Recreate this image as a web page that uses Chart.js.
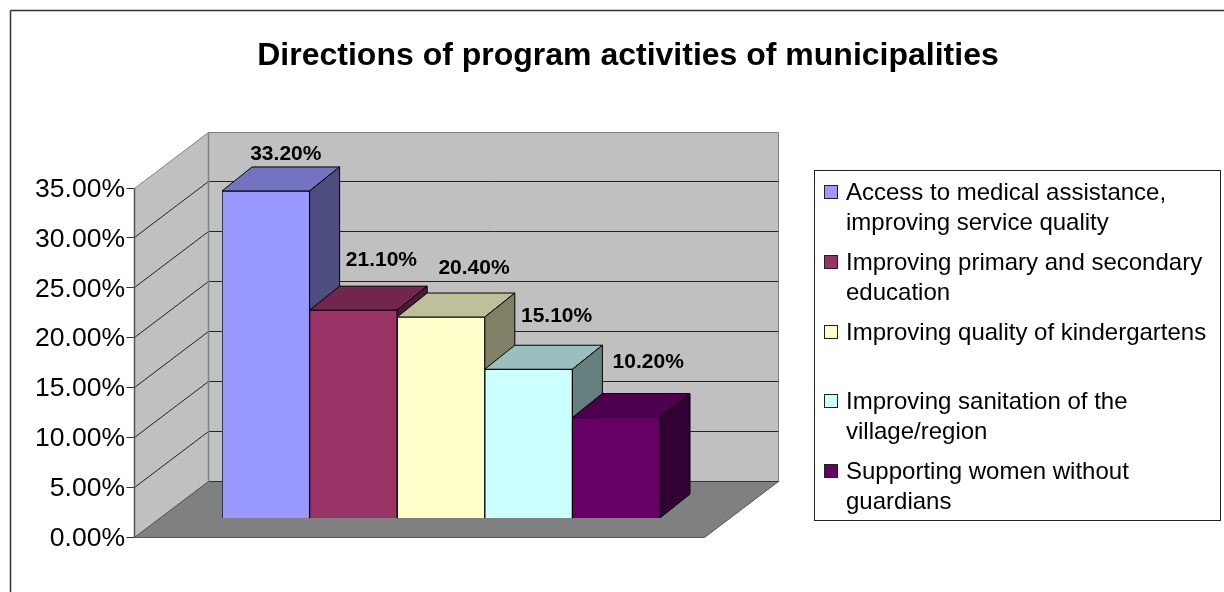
<!DOCTYPE html>
<html>
<head>
<meta charset="utf-8">
<style>
  html, body { margin: 0; padding: 0; background: #fff; }
  #wrap { width: 1224px; height: 592px; }
</style>
<script src="https://cdn.jsdelivr.net/npm/chart.js@4/dist/chart.umd.min.js"></script>
</head>
<body>
<div id="wrap"><canvas id="chart" width="1224" height="592"></canvas></div>
<script>
const chartTitle = 'Directions of program activities of municipalities';
const categories = [''];
const seriesLabels = [
  ['Access to medical assistance,', 'improving service quality'],
  ['Improving primary and secondary', 'education'],
  ['Improving quality of kindergartens'],
  ['Improving sanitation of the', 'village/region'],
  ['Supporting women without', 'guardians'],
];
const seriesValues = [33.2, 21.1, 20.4, 15.1, 10.2];
const seriesColors = ['#9999FF', '#993366', '#FFFFCC', '#CCFFFF', '#660066'];
const axisMax = 35;
const axisStep = 5;

// oblique projection of the 3D box, in pixels
const wallDx = 74, wallDy = -56;
const barDx = 30, barDy = -24;
const wallLeft = 134;
const floorRight = 704;
// nudge of each value label from the top of its bar
const labelNudge = [[20, -37], [28, -50], [33, -49], [28, -53], [32, -55]];
// legend rows
const legendBox = { left: 814.5, top: 170.5, right: 1220.5, bottom: 520.5 };
const legendRowY = [193, 263, 333, 402, 472];

const pct = v => v.toFixed(2) + '%';
const crisp = v => Math.round(v - 0.5) + 0.5;

function shade(hex, k) {
  const n = parseInt(hex.slice(1), 16);
  const c = [n >> 16, (n >> 8) & 255, n & 255].map(x => Math.round(x * k));
  return `rgb(${c[0]},${c[1]},${c[2]})`;
}

function poly(ctx, pts, fill, stroke) {
  ctx.beginPath();
  pts.forEach((p, i) => (i ? ctx.lineTo(p[0], p[1]) : ctx.moveTo(p[0], p[1])));
  ctx.closePath();
  if (fill) { ctx.fillStyle = fill; ctx.fill(); }
  if (stroke) { ctx.strokeStyle = stroke; ctx.lineWidth = 1; ctx.stroke(); }
}

function line(ctx, x1, y1, x2, y2, color, width) {
  ctx.beginPath();
  ctx.moveTo(x1, y1);
  ctx.lineTo(x2, y2);
  ctx.strokeStyle = color;
  ctx.lineWidth = width || 1;
  ctx.stroke();
}

const box3d = {
  id: 'box3d',
  beforeDraw(chart) {
    const ctx = chart.ctx;
    ctx.save();
    // outer frame
    line(ctx, 10.5, 592, 10.5, 10.5, '#333', 1.5);
    line(ctx, 10.5, 10.5, 1224, 10.5, '#333', 1.5);
    ctx.restore();
  },
  beforeDatasetsDraw(chart) {
    const ctx = chart.ctx;
    const y = chart.scales.y;
    const y0 = crisp(y.getPixelForValue(0));
    const yTop = crisp(y.getPixelForValue(axisMax));
    const x0 = wallLeft + 0.5;
    const x1 = x0 + wallDx;
    const x2 = floorRight + 0.5;
    const x3 = x2 + wallDx;

    ctx.save();
    // walls and floor
    poly(ctx, [[x0, y0], [x1, y0 + wallDy], [x1, yTop + wallDy], [x0, yTop]], '#C0C0C0', '#808080');
    poly(ctx, [[x1, y0 + wallDy], [x3, y0 + wallDy], [x3, yTop + wallDy], [x1, yTop + wallDy]], '#C0C0C0', '#808080');
    poly(ctx, [[x0, y0], [x1, y0 + wallDy], [x3, y0 + wallDy], [x2, y0]], '#808080', '#555');

    // grid lines follow the value axis round the walls
    y.ticks.forEach(t => {
      const py = crisp(y.getPixelForValue(t.value));
      line(ctx, x0 - 8, py, x0, py, '#333');
      if (t.value > 0 && t.value < axisMax) {
        line(ctx, x0, py, x1, py + wallDy, '#222');
        line(ctx, x1, py + wallDy, x3, py + wallDy, '#222');
      }
    });
    line(ctx, x1, y0 + wallDy, x3, y0 + wallDy, '#333');
    line(ctx, x1, yTop + wallDy, x1, y0 + wallDy, '#808080', 1.5);
    line(ctx, x0, yTop, x0, y0, '#555', 1.5);
    line(ctx, x0, y0, x2, y0, '#555');

    // top and side of each bar, left to right
    chart.data.datasets.forEach((ds, i) => {
      const bar = chart.getDatasetMeta(i).data[0];
      const l = bar.x - bar.width / 2, r = bar.x + bar.width / 2;
      const t = bar.y, b = bar.base;
      const color = seriesColors[i];
      poly(ctx, [[l, t], [l + barDx, t + barDy], [r + barDx, t + barDy], [r, t]], shade(color, 0.75), '#000');
      poly(ctx, [[r, t], [r + barDx, t + barDy], [r + barDx, b + barDy], [r, b]], shade(color, 0.5), '#000');
    });
    ctx.restore();
  },
  afterDatasetsDraw(chart) {
    const ctx = chart.ctx;
    ctx.save();
    ctx.fillStyle = '#000';
    ctx.textBaseline = 'middle';

    // value labels
    ctx.font = 'bold 21px "Liberation Sans", Arial, sans-serif';
    ctx.textAlign = 'center';
    chart.data.datasets.forEach((ds, i) => {
      const bar = chart.getDatasetMeta(i).data[0];
      ctx.fillText(pct(ds.data[0]), bar.x + labelNudge[i][0], bar.y + labelNudge[i][1]);
    });

    // legend
    const b = legendBox;
    ctx.fillStyle = '#fff';
    ctx.fillRect(b.left, b.top, b.right - b.left, b.bottom - b.top);
    ctx.strokeStyle = '#222';
    ctx.lineWidth = 1;
    ctx.strokeRect(b.left, b.top, b.right - b.left, b.bottom - b.top);
    ctx.font = '24px "Liberation Sans", Arial, sans-serif';
    ctx.textAlign = 'left';
    seriesLabels.forEach((lines, i) => {
      const ry = legendRowY[i];
      ctx.fillStyle = seriesColors[i];
      ctx.fillRect(824.5, ry - 7.5, 13, 13);
      ctx.strokeRect(824.5, ry - 7.5, 13, 13);
      ctx.fillStyle = '#000';
      lines.forEach((txt, j) => ctx.fillText(txt, 846, ry + j * 30));
    });
    ctx.restore();
  },
};

new Chart(document.getElementById('chart'), {
  type: 'bar',
  data: {
    labels: categories,
    datasets: seriesValues.map((v, i) => ({
      label: seriesLabels[i].join(' '),
      data: [v],
      yAxisID: 'barY',
      backgroundColor: seriesColors[i],
      borderColor: '#000',
      borderWidth: 1,
      categoryPercentage: 1,
      barPercentage: 1,
    })),
  },
  options: {
    responsive: false,
    animation: false,
    layout: { padding: { left: 32, right: 0, top: 0, bottom: 55 } },
    plugins: {
      legend: { display: false },
      tooltip: { enabled: false },
      title: {
        display: true,
        text: chartTitle,
        color: '#000',
        font: { family: '"Liberation Sans", Arial, sans-serif', size: 32, weight: 'bold' },
        padding: { top: 36.8, bottom: 112.8 },
      },
    },
    scales: {
      x: { display: false },
      y: {
        position: 'left',
        min: 0,
        max: axisMax,
        // labels sit out by the front edge of the left wall, keep the axis from reserving that height
        afterFit: s => { s.width = 190; s.paddingTop = 0; s.paddingBottom = 0; },
        grid: { display: false, drawTicks: false },
        border: { display: false },
        ticks: {
          stepSize: axisStep,
          padding: 97,
          labelOffset: 1.5,
          color: '#000',
          font: { family: '"Liberation Sans", Arial, sans-serif', size: 26.5 },
          callback: v => pct(v),
        },
      },
      // front faces stand further back on the floor than the value axis
      barY: {
        position: 'right',
        min: -1.93,
        max: 33.5,
        afterFit: s => { s.width = 564; },
        grid: { display: false },
        border: { display: false },
        ticks: { display: false },
      },
    },
  },
  plugins: [box3d],
});
</script>
</body>
</html>
